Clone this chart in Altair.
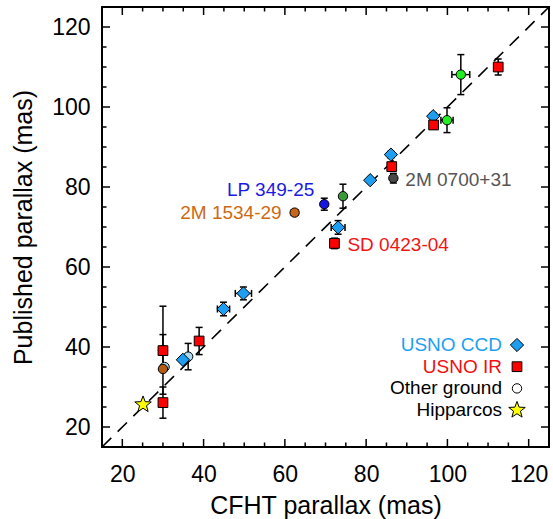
import altair as alt
import pandas as pd

# ---------------- data ----------------
# USNO CCD (blue diamonds)
ccd_x = [34.9, 44.9, 49.8, 73.1, 81.0, 86.1, 96.5]
ccd_y = [36.8, 49.5, 53.4, 69.9, 81.7, 88.1, 97.7]
ccd_xerr = [0.0, 1.5, 2.0, 1.7, 0.0, 0.0, 0.0]
ccd_yerr = [0.0, 1.7, 1.6, 1.7, 0.0, 0.8, 0.8]

# USNO IR (red squares)
ir_x = [30.0, 30.0, 38.9, 72.2, 86.3, 96.6, 112.5]
ir_y = [26.1, 39.1, 41.5, 65.9, 85.1, 95.5, 110.0]
ir_xerr = [0.0, 0.0, 0.0, 0.0, 0.0, 0.0, 0.0]
ir_yerr = [3.9, 4.0, 3.4, 1.3, 1.0, 1.0, 2.0]

# Other ground (circles, individual colours)
gr_x = [30.4, 36.2, 30.0, 30.0, 62.4, 69.7, 74.3, 86.7, 99.9, 103.3]
gr_y = [35.0, 37.6, 39.2, 34.5, 73.6, 75.7, 77.7, 82.2, 96.7, 108.1]
gr_xerr = [0.0, 0.0, 0.0, 0.0, 0.8, 0.0, 0.0, 0.6, 1.5, 2.2]
gr_yerr = [0.0, 3.3, 11.0, 0.0, 0.0, 1.5, 3.0, 1.2, 3.1, 5.0]
gr_color = ["#a9d9ea", "#a9d9ea", "#d41010", "#b35c12", "#c4661c",
            "#1515e0", "#3a9a3a", "#484848", "#22ee22", "#22ee22"]

# Hipparcos (yellow star)
hip_x = [25.1]
hip_y = [25.6]

# annotated objects
ann_text = ["LP 349-25", "2M 1534-29", "SD 0423-04", "2M 0700+31"]
ann_x = [69.7, 62.4, 72.2, 86.7]
ann_y = [75.7, 73.6, 65.9, 82.2]
ann_color = ["#1a1ae6", "#cc6a14", "#f01414", "#555555"]

legend_labels = ["USNO CCD", "USNO IR", "Other ground", "Hipparcos"]
legend_colors = ["#1ea0f0", "#f01010", "black", "black"]

major_ticks = [20, 40, 60, 80, 100, 120]
minor_ticks = [v for v in range(20, 125, 5) if v % 20 != 0]
diag = [15, 125]

# ---------------- styling ----------------
W, H = 447, 440
FONT = "Liberation Sans"
STAR = ("M0,-1L0.247,-0.34L0.951,-0.309L0.399,0.13L0.588,0.809L0,0.42"
        "L-0.588,0.809L-0.399,0.13L-0.951,-0.309L-0.247,-0.34Z")
CCD_FILL = "#1e9ef0"
S_DIA, S_SQ, S_CIR, S_STAR = 175, 95, 88, 300

xs = alt.Scale(domain=[15, 125], nice=False, zero=False)
ys = alt.Scale(domain=[15, 125], nice=False, zero=False)

xaxis = alt.Axis(values=major_ticks, ticks=False, domain=False, grid=False,
                 labelFontSize=23, labelFont=FONT, labelColor="black",
                 labelPadding=34, labelBaseline="alphabetic", labelFlush=False,
                 titleFontSize=25, titleFont=FONT, titleFontWeight="normal",
                 titleColor="black", titleY=66, titleBaseline="alphabetic")
yaxis = alt.Axis(values=major_ticks, ticks=False, domain=False, grid=False,
                 labelFontSize=23, labelFont=FONT, labelColor="black",
                 labelPadding=12, labelFlush=False,
                 titleFontSize=25, titleFont=FONT, titleFontWeight="normal",
                 titleColor="black", titleX=-71, titleY=220, titleAngle=270,
                 titleAlign="center", titleBaseline="alphabetic")
XT = "CFHT parallax (mas)"
YT = "Published parallax (mas)"


def X(f):
    return alt.X(f, type="quantitative", scale=xs, axis=xaxis, title=XT)


def Y(f):
    return alt.Y(f, type="quantitative", scale=ys, axis=yaxis, title=YT)


# ---------------- assemble table ----------------
rows = []
for i in range(len(gr_x)):
    rows.append(dict(x=gr_x[i], y=gr_y[i], xerr=gr_xerr[i], yerr=gr_yerr[i],
                     shape="circle", fill=gr_color[i], size=S_CIR))
for i in range(len(ccd_x)):
    rows.append(dict(x=ccd_x[i], y=ccd_y[i], xerr=ccd_xerr[i], yerr=ccd_yerr[i],
                     shape="diamond", fill=CCD_FILL, size=S_DIA))
for i in range(len(ir_x)):
    rows.append(dict(x=ir_x[i], y=ir_y[i], xerr=ir_xerr[i], yerr=ir_yerr[i],
                     shape="square", fill="#ff0000", size=S_SQ))
for i in range(len(hip_x)):
    rows.append(dict(x=hip_x[i], y=hip_y[i], xerr=0.0, yerr=0.0,
                     shape=STAR, fill="#ffff00", size=S_STAR))
df = pd.DataFrame(rows)
df["ylo"] = df["y"] - df["yerr"]
df["yhi"] = df["y"] + df["yerr"]
df["xlo"] = df["x"] - df["xerr"]
df["xhi"] = df["x"] + df["xerr"]
df["ord"] = range(len(df))
dfy = df[df["yerr"] > 0]
dfx = df[df["xerr"] > 0]

layers = []

# dashed one-to-one line
line_df = pd.DataFrame({"x": diag, "y": diag})
layers.append(alt.Chart(line_df).mark_line(color="black", strokeWidth=1.6,
                                           strokeDash=[13, 9]).encode(x=X("x"), y=Y("y")))

# error bars
EB = dict(color="black", strokeWidth=1.5)
layers.append(alt.Chart(dfy).mark_rule(**EB).encode(x=X("x"), y=Y("ylo"), y2="yhi"))
layers.append(alt.Chart(dfx).mark_rule(**EB).encode(y=Y("y"), x=X("xlo"), x2="xhi"))
for f in ["ylo", "yhi"]:
    layers.append(alt.Chart(dfy).mark_tick(orient="horizontal", size=7, thickness=1.5,
                                           color="black", opacity=1)
                  .encode(x=X("x"), y=Y(f)))
for f in ["xlo", "xhi"]:
    layers.append(alt.Chart(dfx).mark_tick(orient="vertical", size=7, thickness=1.5,
                                           color="black", opacity=1)
                  .encode(x=X(f), y=Y("y")))

# markers
layers.append(alt.Chart(df).mark_point(filled=True, opacity=1, stroke="black",
                                       strokeWidth=1).encode(
    x=X("x"), y=Y("y"),
    shape=alt.Shape("shape:N", scale=None),
    fill=alt.Fill("fill:N", scale=None),
    size=alt.Size("size:Q", scale=None),
    order=alt.Order("ord:Q")))

# annotations
ann_df = pd.DataFrame({"t": ann_text, "x": ann_x, "y": ann_y, "c": ann_color})
offs = [("right", -10, -14), ("right", -13, 0), ("left", 13, 2), ("left", 12, 2)]
for i, (al, dx, dy) in enumerate(offs):
    layers.append(alt.Chart(ann_df.iloc[[i]]).mark_text(
        align=al, baseline="middle", dx=dx, dy=dy, fontSize=19, font=FONT,
        color=ann_color[i]).encode(x=X("x"), y=Y("y"), text="t:N"))

# legend
one = pd.DataFrame({"a": [0]})
leg_sym = [("diamond", CCD_FILL, S_DIA), ("square", "#ff0000", S_SQ),
           ("circle", "white", S_CIR), (STAR, "#ffff00", S_STAR)]
for i, lab in enumerate(legend_labels):
    yy = 338 + i * 21.7
    layers.append(alt.Chart(one).mark_text(
        text=lab, align="right", baseline="middle", fontSize=19, font=FONT,
        color=legend_colors[i]).encode(x=alt.value(400), y=alt.value(yy)))
    shp, fil, sz = leg_sym[i]
    layers.append(alt.Chart(one).mark_point(
        shape=shp, filled=True, fill=fil, stroke="black", strokeWidth=1,
        size=sz, opacity=1).encode(x=alt.value(415), y=alt.value(yy)))

# inward ticks on all four sides
TK = dict(color="black", strokeWidth=1.5)
for vals, ln in [(major_ticks, 8), (minor_ticks, 4.5)]:
    tdf = pd.DataFrame({"v": vals})
    layers.append(alt.Chart(tdf).mark_rule(**TK).encode(
        x=X("v"), y=alt.value(H), y2=alt.value(H - ln)))
    layers.append(alt.Chart(tdf).mark_rule(**TK).encode(
        x=X("v"), y=alt.value(0), y2=alt.value(ln)))
    layers.append(alt.Chart(tdf).mark_rule(**TK).encode(
        y=Y("v"), x=alt.value(0), x2=alt.value(ln)))
    layers.append(alt.Chart(tdf).mark_rule(**TK).encode(
        y=Y("v"), x=alt.value(W), x2=alt.value(W - ln)))

chart = alt.layer(*layers).properties(
    width=W, height=H,
    autosize=alt.AutoSizeParams(type="none"),
    padding={"left": 102, "top": 7, "right": 4, "bottom": 72},
    background="white",
).configure_view(stroke="black", strokeWidth=2)

chart.save("out.html", embed_options={"renderer": "svg", "actions": False})
